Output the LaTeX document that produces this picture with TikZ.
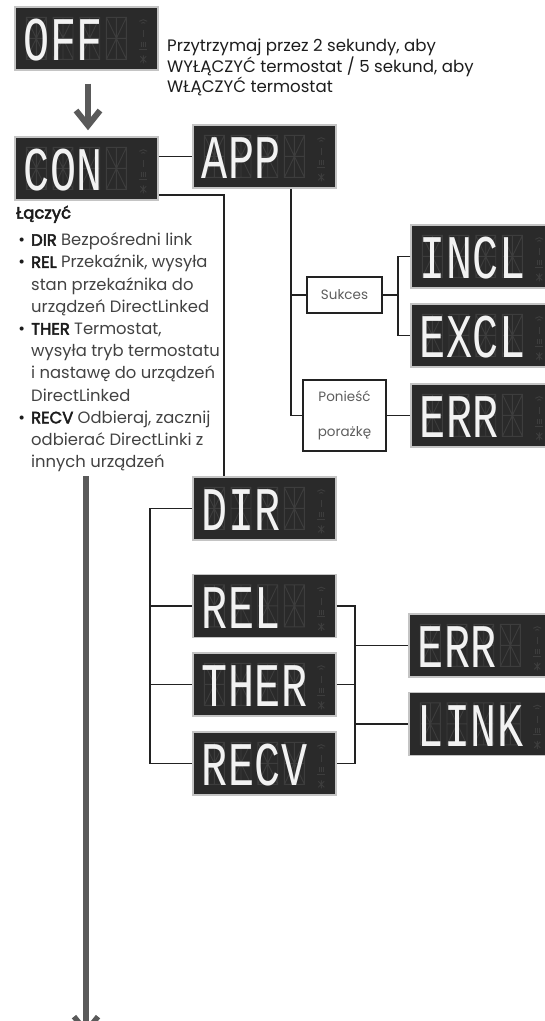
\documentclass[tikz,border=0pt]{standalone}
\usepackage{fontspec}
\setmainfont{Poppins}
\newfontfamily\lcdfont{Liberation Mono}
\newfontfamily\kwfont{Poppins}[FakeBold=3]
\usepackage{graphicx}
\usetikzlibrary{calc,arrows.meta}

\definecolor{lcdbg}{HTML}{2A2A2A}
\definecolor{lcdrim}{HTML}{C4C4C4}
\definecolor{lcdghost}{HTML}{3D3D3D}
\definecolor{lcdon}{HTML}{F2F2F2}
\definecolor{linec}{HTML}{222222}
\definecolor{arrowc}{HTML}{5A5A5A}
\definecolor{bodyc}{HTML}{424242}
\definecolor{keyc}{HTML}{1C1C1C}
\definecolor{tagc}{HTML}{5E5E5E}

\newcommand{\kw}[1]{\textcolor{keyc}{\kwfont #1}}
\newcommand{\bul}{\llap{\textcolor{keyc}{•}\hspace{6pt}}}

% each letter sits in one display cell
\makeatletter
\newcommand{\lcdcells}[1]{\lcd@cells#1\relax}
\def\lcd@cells#1{\ifx#1\relax\else
  \makebox[26.7pt]{\scalebox{.7}[1]{#1}}\expandafter\lcd@cells\fi}
\makeatother

% one display panel: name, centre, shown text
\newcommand{\lcdpanel}[3]{%
  \node[lcd] (#1) at (#2) {};
  \foreach \c in {0,...,3}
    \draw[ghost,shift={($(#1.north west)+(12+26.7*\c,11)$)}]
      (0,0) rectangle (20,42) (0,21) -- (20,21) (10,0) -- (10,42)
      (0,0) -- (20,42) (20,0) -- (0,42);
  \begin{scope}[ghost,shift={($(#1.north west)+(129,0)$)}]
    \draw (-4,15) arc[start angle=-135,end angle=-45,radius=5.6]
          (-2,17) arc[start angle=-135,end angle=-45,radius=2.8];
    \draw (0,24) -- (0,31);
    \draw (-4,43) -- (4,43) (-2,36) -- (-2,41) (0,36) -- (0,41) (2,36) -- (2,41);
    \draw (-3,50) -- (3,56) (3,50) -- (-3,56) (0,49) -- (0,57);
  \end{scope}
  \node[lcdtxt] (#1-t) at ($(#1.south west)+(8.65,-10)$)
    {\fontsize{62}{63}\lcdfont\lcdcells{#3}};
}

\begin{document}
\begin{tikzpicture}[x=1pt,y=-1pt,
    lcd/.style={draw=lcdrim,fill=lcdbg,line width=1.4pt,minimum width=143pt,
      minimum height=63pt,inner sep=0pt},
    ghost/.style={draw=lcdghost,line width=0.9pt},
    lcdtxt/.style={text=lcdon,inner sep=0pt,anchor=base west},
    conn/.style={draw=linec,line width=1.4pt},
    tag/.style={draw=linec,line width=1.2pt,fill=white,text=tagc,inner sep=0pt,
      font=\fontsize{13.5}{35}\selectfont,align=center},
    bodytxt/.style={inner sep=0pt,align=left},
    flow/.style={draw=arrowc,line width=6pt,
      -{Straight Barb[length=15pt,width=24pt]}}]
  \useasboundingbox (0,0) rectangle (545,1021);
  \clip (0,0) rectangle (545,1021);

  % displays
  \lcdpanel{off}{86.5,38.5}{OFF}
  \lcdpanel{con}{86.5,168.5}{CON}
  \lcdpanel{app}{264.5,156.5}{APP}
  \lcdpanel{incl}{482.5,256.5}{INCL}
  \lcdpanel{excl}{482.5,335.5}{EXCL}
  \lcdpanel{errA}{482.5,415.5}{ERR}
  \lcdpanel{dir}{264.5,508.5}{DIR}
  \lcdpanel{rel}{264.5,606}{REL}
  \lcdpanel{ther}{264.5,684.5}{THER}
  \lcdpanel{recv}{264.5,763.5}{RECV}
  \lcdpanel{errB}{480.5,645.5}{ERR}
  \lcdpanel{link}{480.5,724}{LINK}

  % result tags
  \node[tag,minimum width=75pt,minimum height=36pt] (sukces) at (344.5,295) {Sukces};
  \node[tag,minimum width=83pt,minimum height=71pt] (ponies) at (344.5,415.5) {Ponieść\\porażkę};

  % texts
  \node[bodytxt,anchor=north west,text=keyc,font=\fontsize{16.6}{20.7}\selectfont]
    (holdnote) at (167,38.5)
    {Przytrzymaj przez 2 sekundy, aby\\WYŁĄCZYĆ termostat / 5 sekund, aby\\WŁĄCZYĆ termostat};
  \node[bodytxt,anchor=north west,text=bodyc,font=\fontsize{16.4}{22.2}\selectfont]
    (conlist) at (31,205.5)
    {\hspace*{-15pt}\kw{Łączyć}\\[5pt]
     \bul\kw{DIR} Bezpośredni link\\
     \bul\kw{REL} Przekaźnik, wysyła\\
     stan przekaźnika do\\
     urządzeń DirectLinked\\
     \bul\kw{THER} Termostat,\\
     wysyła tryb termostatu\\
     i nastawę do urządzeń\\
     DirectLinked\\
     \bul\kw{RECV} Odbieraj, zacznij\\
     odbierać DirectLinki z\\
     innych urządzeń};

  % arrows
  \coordinate (downtop) at (86,476);
  \coordinate (downend) at (86,1036);
  \draw[flow,shorten <=13pt,shorten >=6pt] (off.south -| 88,0) -- (con.north -| 88,0);
  \draw[flow,line width=5.5pt] (downtop) -- (downend);

  % connectors
  \coordinate (condir) at (224,195);
  \coordinate (appx) at (291,188);
  \coordinate (sukx) at (398,0);
  \coordinate (lb) at (150,0);
  \coordinate (rb) at (355,0);
  \draw[conn] (app.west -| con.east) -- (app.west);
  \draw[conn] (con.east |- condir) -- (condir) -- (condir |- dir.north);
  \draw[conn] (appx |- app.south) -- (appx |- ponies.west) -- (ponies.west);
  \draw[conn] (appx |- sukces.west) -- (sukces.west);
  \draw[conn] (sukces.east) -- (sukces.east -| sukx);
  \draw[conn] (incl.west) -- (incl.west -| sukx) -- (excl.west -| sukx) -- (excl.west);
  \draw[conn] (ponies.east) -- (errA.west);
  \draw[conn] (dir.west) -- (dir.west -| lb) -- (recv.west -| lb) -- (recv.west);
  \draw[conn] (rel.west -| lb) -- (rel.west);
  \draw[conn] (ther.west -| lb) -- (ther.west);
  \draw[conn] (rel.east) -- (rel.east -| rb) -- (recv.east -| rb) -- (recv.east);
  \draw[conn] (ther.east) -- (ther.east -| rb);
  \draw[conn] (errB.west -| rb) -- (errB.west);
  \draw[conn] (link.west -| rb) -- (link.west);
\end{tikzpicture}
\end{document}
